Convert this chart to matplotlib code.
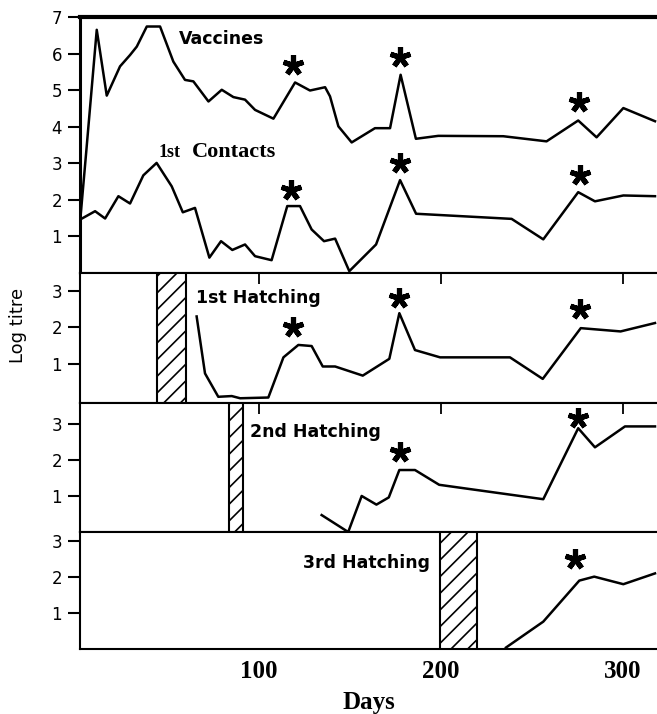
import matplotlib.pyplot as plt

# Vaccines and 1st contacts (top panel)
vac_days = [2, 5, 10.8, 16.3, 23.6, 29.1, 32.8, 38.3, 45.6, 52.9, 59.3, 63.9, 72.2, 79.5, 85.9,
            92.3, 97.8, 107.9, 119.8, 128, 136.3, 139, 143.6, 150.9, 163.7, 172, 177.8, 186.2,
            198.5, 234.2, 258, 275.4, 285.5, 300.2, 317.6]
vac_titre = [1.6, 3.3, 6.65, 4.85, 5.65, 5.96, 6.19, 6.74, 6.74, 5.78, 5.28, 5.24, 4.69, 5.01, 4.81,
             4.74, 4.46, 4.22, 5.21, 4.99, 5.08, 4.83, 4.01, 3.57, 3.96, 3.96, 5.42, 3.67,
             3.75, 3.74, 3.6, 4.17, 3.71, 4.51, 4.15]

con_days = [1.6, 9.9, 15.4, 22.7, 29.1, 36.4, 43.7, 52, 58.1, 64.8, 72.7, 79.1, 85.3, 92.3, 97.8,
            106.9, 115.5, 122.5, 128.9, 135.7, 141.8, 149.6, 164.3, 177.5, 186.3, 238.8, 256.2,
            275.4, 284.6, 300.2, 317.6]
con_titre = [1.46, 1.69, 1.49, 2.1, 1.9, 2.67, 3.01, 2.37, 1.66, 1.78, 0.42, 0.87, 0.63, 0.78, 0.46,
             0.35, 1.83, 1.83, 1.19, 0.87, 0.94, 0.05, 0.78, 2.54, 1.62, 1.48, 0.92,
             2.21, 1.96, 2.12, 2.1]

h1_days = [65.7, 70.3, 77.6, 85, 89.6, 105.1, 113.4, 121.6, 128.9, 135, 141.8, 157, 171.6, 177.1,
           185.7, 199.5, 237.9, 255.9, 276.8, 298.7, 317.6]
h1_titre = [2.3, 0.74, 0.1, 0.12, 0.06, 0.08, 1.18, 1.52, 1.49, 0.93, 0.93, 0.68, 1.14, 2.39,
            1.38, 1.18, 1.18, 0.59, 1.98, 1.89, 2.12]

h2_days = [134.4, 149, 156.4, 164.5, 171.3, 177.1, 185.7, 199, 213.2, 256.2, 275.4, 284.6, 301.1, 317.6]
h2_titre = [0.47, 0.0, 1.0, 0.76, 0.96, 1.72, 1.72, 1.31, 1.21, 0.91, 2.88, 2.35, 2.93, 2.93]

h3_days = [235.7, 256.2, 276, 284.2, 300.2, 317.6]
h3_titre = [0.04, 0.76, 1.9, 2.01, 1.8, 2.1]

# asterisks (significant rises)
star_vac = ([118.7, 177.5, 275.8], [5.69, 5.91, 4.68])
star_con = ([117.6, 177.5, 276.4], [2.28, 3.02, 2.69])
star_h1 = ([118.7, 176.9, 276.4], [2.01, 2.81, 2.51])
star_h2 = ([177.5, 275.3], [2.22, 3.17])
star_h3 = ([273.6], [2.5])

# hatching periods
hatch_periods = [(44, 60), (83.5, 91), (199.5, 220)]

plt.rcParams['hatch.linewidth'] = 1.2

fig = plt.figure(figsize=(6.57, 7.14), dpi=100)
left = 80 / 657
width = 1 - left
rows = [(17, 273), (273, 403), (403, 532), (532, 649)]
axes = []
for top, bot in rows:
    ax = fig.add_axes([left, 1 - bot / 714, width, (bot - top) / 714])
    axes.append(ax)

ylims = [(0, 7), (-0.07, 3.49), (0, 3.58), (0, 3.25)]
yticks = [[1, 2, 3, 4, 5, 6, 7], [1, 2, 3], [1, 2, 3], [1, 2, 3]]

for i, ax in enumerate(axes):
    ax.set_xlim(1.6, 318.7)
    ax.set_ylim(ylims[i])
    ax.set_yticks(yticks[i])
    ax.spines['right'].set_visible(False)
    for s in ['left', 'top', 'bottom']:
        ax.spines[s].set_linewidth(1.5)
    ax.tick_params(axis='y', direction='out', length=9, width=1.5, labelsize=12, pad=4)
    ax.set_xticks([100, 200, 300])
    if i == 0:
        ax.tick_params(axis='x', bottom=False, top=False, labelbottom=False)
    else:
        ax.tick_params(axis='x', bottom=False, top=True, direction='in', length=8, width=1.3,
                       labelbottom=False)

axes[0].spines['top'].set_linewidth(3)
axes[0].spines['left'].set_linewidth(2.2)

lw = 1.8
star = dict(marker=(5, 2, 0), markersize=15, markeredgewidth=3.7, color='black', linestyle='none')

ax = axes[0]
ax.plot(vac_days, vac_titre, color='black', lw=lw)
ax.plot(con_days, con_titre, color='black', lw=lw)
ax.plot(star_vac[0], star_vac[1], **star)
ax.plot(star_con[0], star_con[1], **star)
ax.text(56, 6.4, 'Vaccines', fontsize=12.5, fontweight='bold', ha='left', va='center')
ax.text(45.0, 3.18, '1st', fontsize=13, fontweight='bold', family='Liberation Serif',
        ha='left', va='baseline')
ax.text(63.2, 3.18, 'Contacts', fontsize=16, fontweight='bold', family='Liberation Serif',
        ha='left', va='baseline')

ax = axes[1]
ax.plot(h1_days, h1_titre, color='black', lw=lw)
ax.plot(star_h1[0], star_h1[1], **star)
ax.text(65.4, 2.81, '1st Hatching', fontsize=12.5, fontweight='bold', ha='left', va='center')

ax = axes[2]
ax.plot(h2_days, h2_titre, color='black', lw=lw)
ax.plot(star_h2[0], star_h2[1], **star)
ax.text(95, 2.78, '2nd Hatching', fontsize=12.5, fontweight='bold', ha='left', va='center')

ax = axes[3]
ax.plot(h3_days, h3_titre, color='black', lw=lw)
ax.plot(star_h3[0], star_h3[1], **star)
ax.text(124.2, 2.39, '3rd Hatching', fontsize=12.5, fontweight='bold', ha='left', va='center')

for ax, (x0, x1) in zip(axes[1:], hatch_periods):
    ax.axvspan(x0, x1, facecolor='white', edgecolor='black', hatch='//', linewidth=1.5, zorder=3)

ax = axes[3]
ax.tick_params(axis='x', bottom=True, length=0, labelbottom=True, pad=8)
ax.set_xticklabels(['100', '200', '300'], fontsize=18, fontweight='bold', family='Liberation Serif')
ax.set_xlabel('Days', fontsize=18, fontweight='bold', family='Liberation Serif', labelpad=6)

fig.text(18 / 657, 1 - 325 / 714, 'Log titre', rotation=90, fontsize=13, ha='center', va='center')

fig.savefig('out.png', dpi=100)
